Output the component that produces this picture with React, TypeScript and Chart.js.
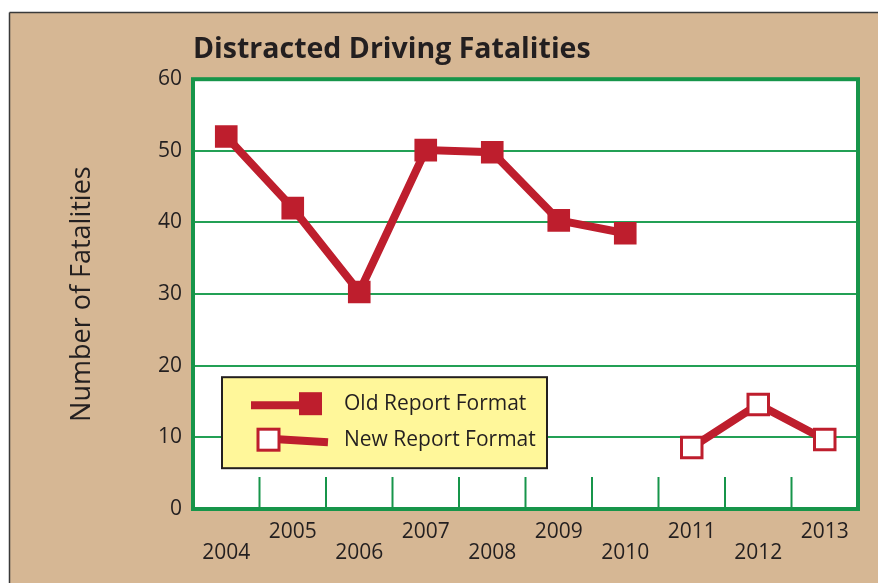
import React, { useEffect, useRef } from 'react';
import { Chart, registerables } from 'chart.js';

Chart.register(...registerables);

const years = ['2004', '2005', '2006', '2007', '2008', '2009', '2010', '2011', '2012', '2013'];
const oldFormat = [52, 42, 30.3, 50.1, 49.8, 40.3, 38.5, null, null, null];
const newFormat = [null, null, null, null, null, null, null, 8.6, 14.6, 9.7];
const yMin = 0;
const yMax = 60;
const yStep = 10;
const titleText = 'Distracted Driving Fatalities';
const yTitleText = 'Number of Fatalities';
const legendLabels = ['Old Report Format', 'New Report Format'];

const RED = '#be1e2d';
const GREEN = '#17954a';
const GRID = '#23a055';
const TAN = '#d6b794';
const TEXT = '#231f20';
const LEGEND_FILL = '#fff79a';
const FONT = "'Open Sans', sans-serif";

const backgroundPlugin = {
  id: 'bgFrame',
  beforeDraw(chart: any) {
    const { ctx, width, height, chartArea } = chart;
    ctx.save();
    ctx.fillStyle = '#ffffff';
    ctx.fillRect(0, 0, width, height);
    ctx.fillStyle = TAN;
    ctx.fillRect(10, 13, width - 10, height - 13);
    ctx.strokeStyle = '#3a3a3a';
    ctx.lineWidth = 1.5;
    ctx.beginPath();
    ctx.moveTo(9.5, 12.5);
    ctx.lineTo(width, 12.5);
    ctx.moveTo(9.5, 12.5);
    ctx.lineTo(9.5, height);
    ctx.stroke();
    ctx.fillStyle = '#ffffff';
    ctx.fillRect(chartArea.left, chartArea.top, chartArea.right - chartArea.left, chartArea.bottom - chartArea.top);
    ctx.restore();
  },
  beforeDatasetsDraw(chart: any) {
    const { ctx, chartArea, scales } = chart;
    const x = scales.x;
    ctx.save();
    ctx.strokeStyle = GREEN;
    ctx.lineWidth = 2;
    for (let i = 0; i < years.length - 1; i++) {
      const px = (x.getPixelForValue(i) + x.getPixelForValue(i + 1)) / 2;
      ctx.beginPath();
      ctx.moveTo(px, chartArea.bottom);
      ctx.lineTo(px, chartArea.bottom - 32);
      ctx.stroke();
    }
    ctx.lineWidth = 4;
    ctx.strokeStyle = GREEN;
    ctx.strokeRect(chartArea.left, chartArea.top, chartArea.right - chartArea.left, chartArea.bottom - chartArea.top);
    ctx.restore();
  },
  afterDatasetsDraw(chart: any) {
    const { ctx, chartArea } = chart;
    const L = chartArea.left + 29;
    const T = chartArea.top + 298;
    const W = 325;
    const H = 91;
    ctx.save();
    ctx.fillStyle = LEGEND_FILL;
    ctx.fillRect(L, T, W, H);
    ctx.strokeStyle = TEXT;
    ctx.lineWidth = 2;
    ctx.strokeRect(L, T, W, H);

    ctx.strokeStyle = RED;
    ctx.lineWidth = 8;
    ctx.beginPath();
    ctx.moveTo(L + 29, T + 28);
    ctx.lineTo(L + 80, T + 28);
    ctx.stroke();
    ctx.fillStyle = RED;
    ctx.fillRect(L + 77, T + 15, 23, 23);

    ctx.lineWidth = 8;
    ctx.beginPath();
    ctx.moveTo(L + 56, T + 62);
    ctx.lineTo(L + 106, T + 65);
    ctx.stroke();
    ctx.fillStyle = '#ffffff';
    ctx.fillRect(L + 36, T + 52, 21, 21);
    ctx.lineWidth = 3;
    ctx.strokeRect(L + 36, T + 52, 21, 21);

    ctx.fillStyle = TEXT;
    ctx.font = `21px ${FONT}`;
    ctx.textBaseline = 'middle';
    ctx.textAlign = 'left';
    ctx.fillText(legendLabels[0], L + 122, T + 27);
    ctx.fillText(legendLabels[1], L + 122, T + 63);
    ctx.restore();
  },
};

export default function App() {
  const ref = useRef<HTMLCanvasElement | null>(null);

  useEffect(() => {
    if (!ref.current) return;
    const chart = new Chart(ref.current, {
      type: 'line',
      data: {
        labels: years,
        datasets: [
          {
            label: legendLabels[0],
            data: oldFormat,
            borderColor: RED,
            borderWidth: 8,
            pointStyle: 'rect',
            pointRadius: 16,
            pointBackgroundColor: RED,
            pointBorderColor: RED,
            pointBorderWidth: 0,
            tension: 0,
            spanGaps: false,
          },
          {
            label: legendLabels[1],
            data: newFormat,
            borderColor: RED,
            borderWidth: 8,
            pointStyle: 'rect',
            pointRadius: 14.5,
            pointBackgroundColor: '#ffffff',
            pointBorderColor: RED,
            pointBorderWidth: 3,
            tension: 0,
            spanGaps: false,
          },
        ],
      },
      options: {
        responsive: false,
        animation: false,
        layout: { padding: { left: 60, right: 20, top: 0, bottom: 0 } },
        plugins: {
          legend: { display: false },
          tooltip: { enabled: false },
          title: {
            display: true,
            text: titleText,
            align: 'start',
            fullSize: false,
            color: TEXT,
            font: { family: FONT, size: 28.5, weight: 'bold', lineHeight: 1.2 },
            padding: { top: 33, bottom: 12 },
          },
        },
        scales: {
          x: {
            offset: true,
            grid: { display: false, drawTicks: false },
            border: { display: false },
            ticks: {
              color: TEXT,
              font: { family: FONT, size: 21, lineHeight: 1.0 },
              padding: 13,
              maxRotation: 0,
              autoSkip: false,
              callback: (_v: any, i: number) => (i % 2 === 0 ? ['', years[i]] : [years[i]]),
            },
            afterFit: (s: any) => {
              s.height = 74;
            },
          },
          y: {
            min: yMin,
            max: yMax,
            grid: { color: GRID, lineWidth: 2, drawTicks: false },
            border: { display: false },
            ticks: {
              stepSize: yStep,
              color: TEXT,
              font: { family: FONT, size: 21 },
              padding: 11,
            },
            title: {
              display: true,
              text: yTitleText,
              color: TEXT,
              font: { family: FONT, size: 27, lineHeight: 1.2 },
              padding: { top: 6, bottom: 0 },
            },
            afterFit: (s: any) => {
              s.width = 133;
            },
          },
        },
      },
      plugins: [backgroundPlugin],
    });
    return () => chart.destroy();
  }, []);

  return (
    <canvas
      ref={ref}
      width={878}
      height={583}
      style={{ position: 'absolute', left: 0, top: 0, width: 878, height: 583 }}
    />
  );
}
